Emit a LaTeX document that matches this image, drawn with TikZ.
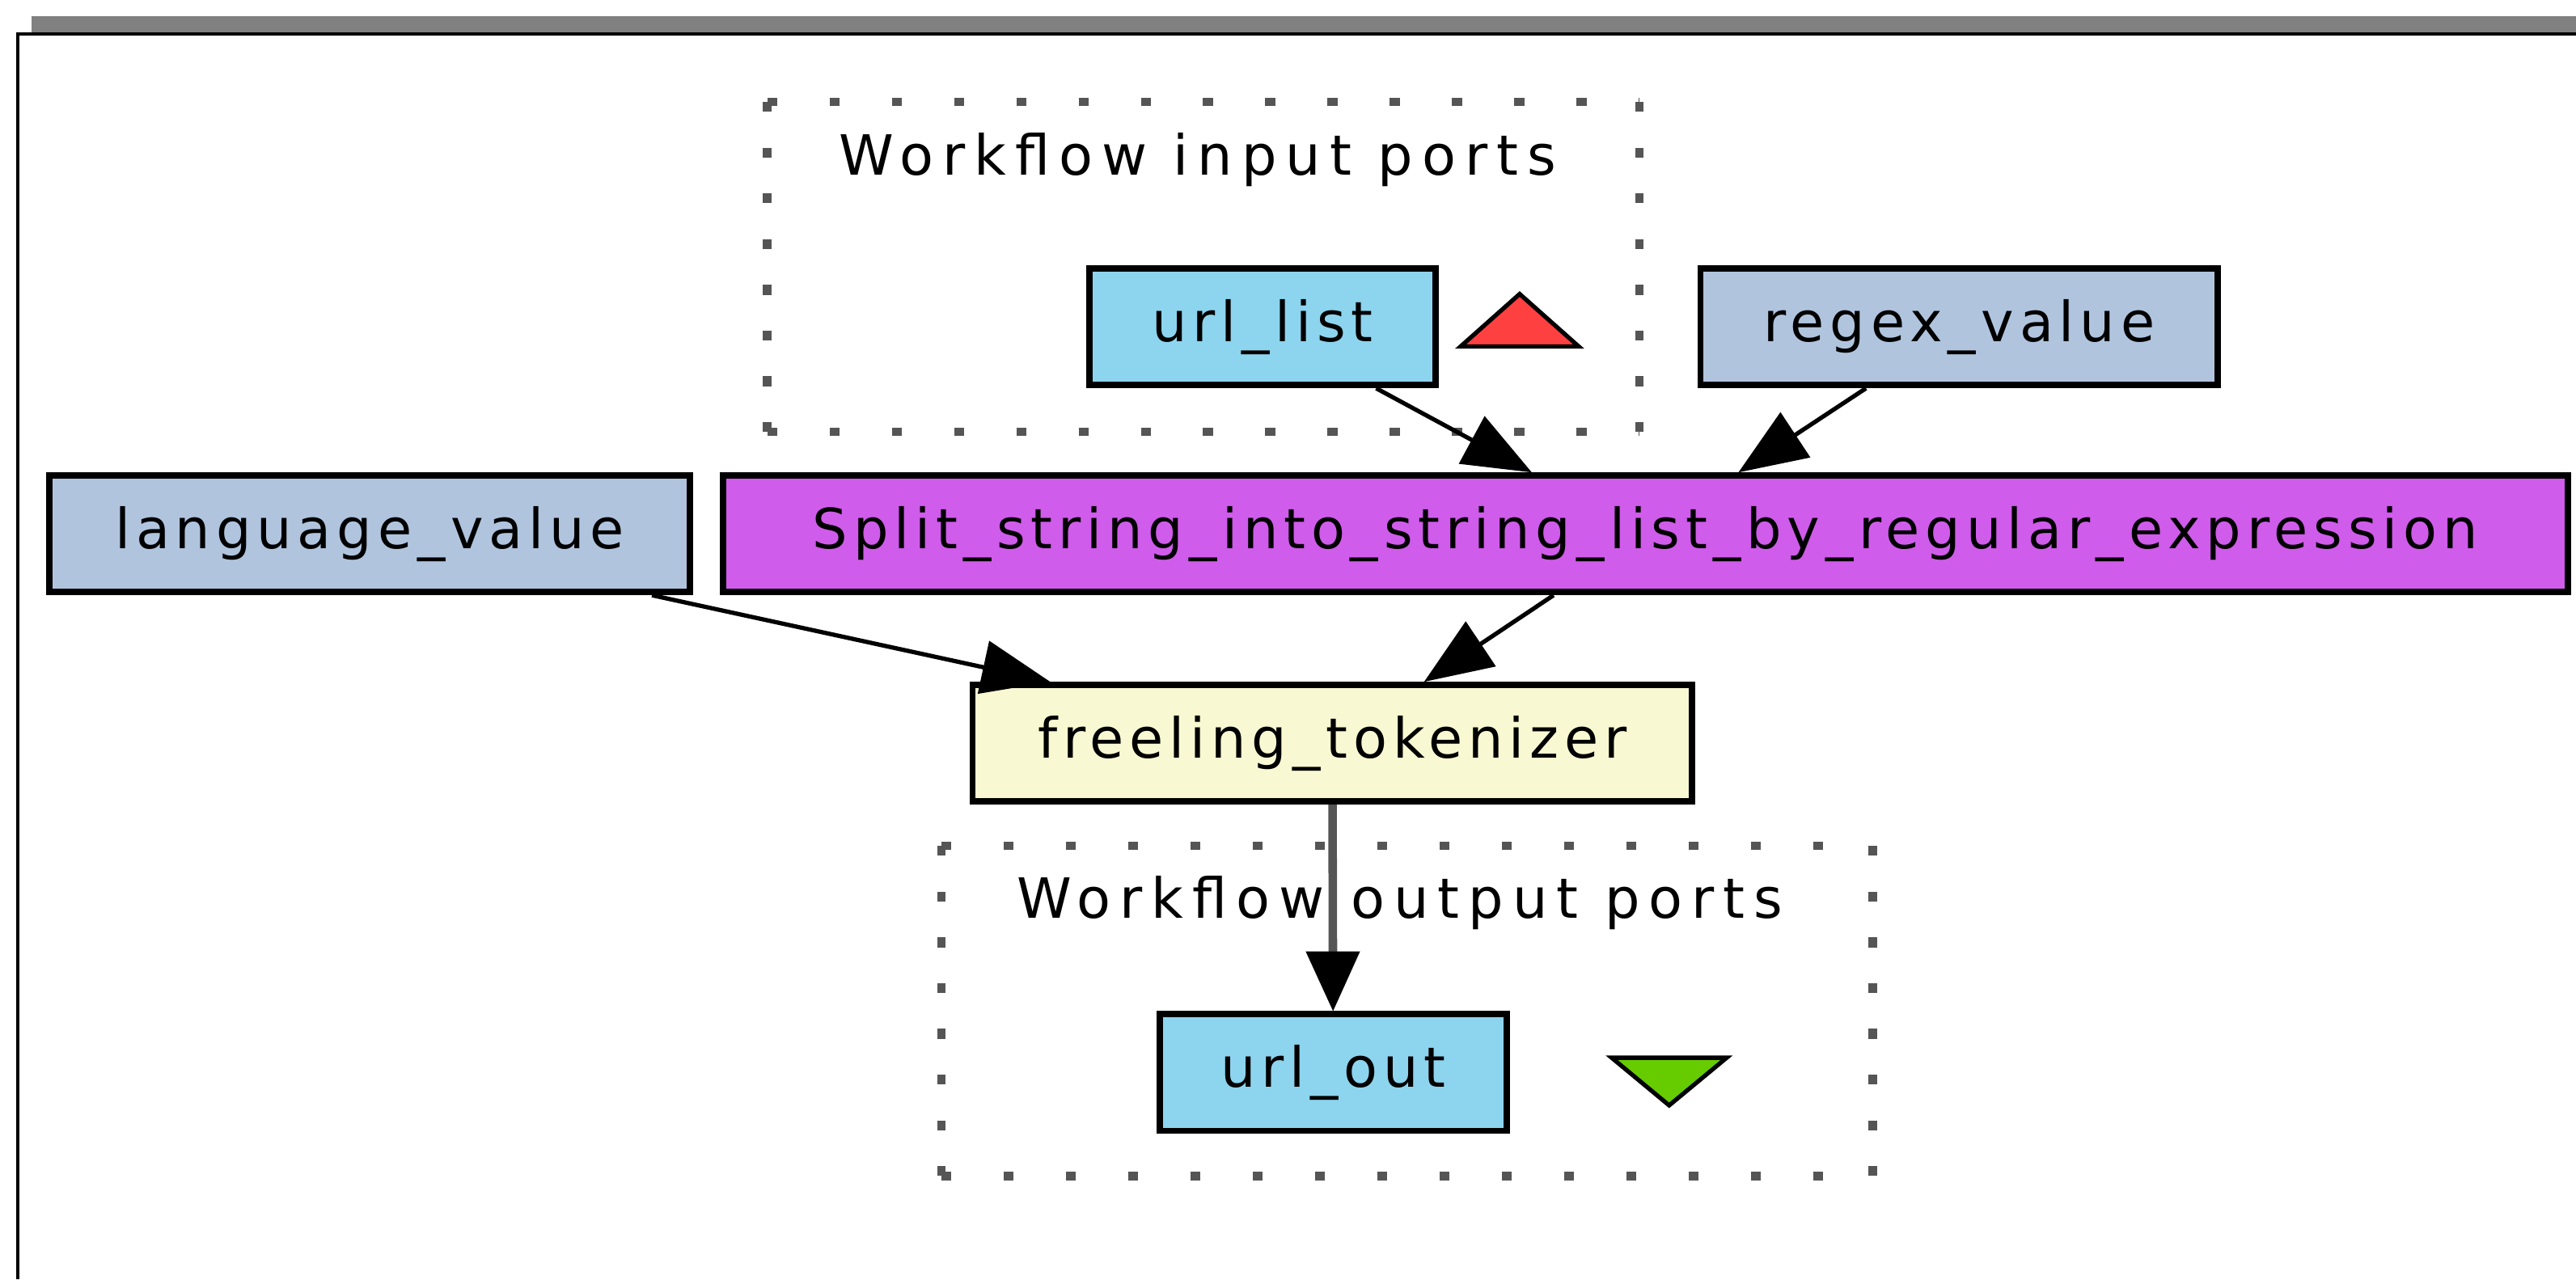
\documentclass[tikz,border=0pt]{standalone}
\usepackage{fontspec}
\usetikzlibrary{
  arrows.meta
}
\newfontfamily\wffont[LetterSpace=10]{DejaVu Sans}
\newfontfamily\wftitlefont[LetterSpace=16]{DejaVu Sans}
\newcommand{\px}{0.2031mm}
\definecolor{portblue}{HTML}{8DD4EE}
\definecolor{valueblue}{HTML}{B0C4DE}
\definecolor{splitpink}{HTML}{CF5CEA}
\definecolor{tokyellow}{HTML}{F8F8D2}
\definecolor{inred}{HTML}{FF4040}
\definecolor{outgreen}{HTML}{66CC00}
\definecolor{dotgray}{HTML}{555555}

\begin{document}
\begin{tikzpicture}[
  x=\px, y=-\px,
  every node/.style = {font=\wffont\fontsize{19.5}{23}\selectfont,
    inner sep=0pt, align=center}]
    \tikzstyle{proc}=[draw, line width=2.2pt, minimum height=71*\px]
    \tikzstyle{porttitle}=[anchor=base, font=\wftitlefont\fontsize{19.5}{23}\selectfont]
    \tikzstyle{link}=[-{Triangle[length=24pt,width=19pt,line width=0.5pt]}, line width=1.5pt]
    \tikzstyle{hdots}=[draw=dotgray, line width=3pt, dash pattern=on 3.5pt off 18.4pt]
    \tikzstyle{vdots}=[draw=dotgray, line width=3pt, dash pattern=on 3.5pt off 12.6pt]
  \useasboundingbox (0,0) rectangle (1568,779);
  % frame
  \fill[gray] (19,10) rectangle (1568,20);
  \draw[line width=1.1pt] (11,779) -- (11,20.5) -- (1568,20.5);
  % workflow input ports
  \draw[hdots] (467,62) -- (998,62);
  \draw[hdots] (467,263) -- (998,263);
  \draw[vdots] (467,62) -- (467,263);
  \draw[vdots] (998,62) -- (998,263);
  \node[porttitle] (intitle) at (729,106.5) {Workflow input ports};
  \node[proc, fill=portblue, minimum width=211*\px] (urllist) at (768.5,199) {url\_list};
  \filldraw[fill=inred, line width=1.5pt, line join=miter] (889,211) -- (961,211) -- (925,179) -- cycle;
  \node[proc, fill=valueblue, minimum width=315*\px] (regex) at (1192.5,199) {regex\_value};
  % processors
  \node[proc, fill=valueblue, minimum width=390*\px] (language) at (225,325) {language\_value};
  \node[proc, fill=splitpink, minimum width=1123*\px] (split) at (1001.5,325)
    {Split\_string\_into\_string\_list\_by\_regular\_expression};
  \node[proc, fill=tokyellow, minimum width=438*\px] (freeling) at (811,452.5) {freeling\_tokenizer};
  % workflow output ports
  \draw[hdots] (573,515) -- (1140,515);
  \draw[hdots] (573,716) -- (1140,716);
  \draw[vdots] (573,515) -- (573,716);
  \draw[vdots] (1140,515) -- (1140,716);
  \node[porttitle] (outtitle) at (852,559) {Workflow output ports};
  \node[proc, fill=portblue, minimum width=211*\px] (urlout) at (811.5,653) {url\_out};
  \filldraw[fill=outgreen, line width=1.5pt, line join=miter] (981,644) -- (1051,644) -- (1016,673) -- cycle;
  % links
  \draw[link] (urllist) -- (split);
  \draw[link] (regex) -- (split);
  \draw[link] (language) -- (freeling);
  \draw[link] (split) -- (freeling);
  \draw[link, draw=dotgray, line width=3pt,
    -{Triangle[length=21pt,width=19pt,line width=0.5pt,color=black]}] (freeling) -- (urlout);
\end{tikzpicture}
\end{document}
